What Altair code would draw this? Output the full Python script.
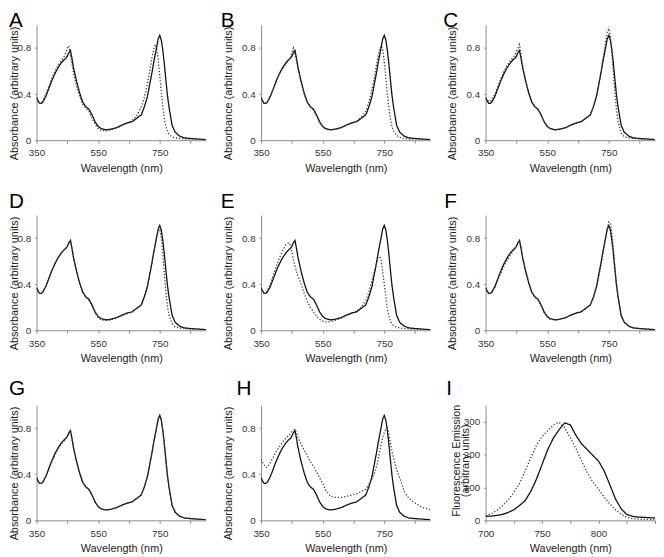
import altair as alt
import pandas as pd

FONT = "Liberation Sans"

# shared wavelength grid (nm) for absorbance spectra
WL = [350, 355, 360, 365, 370, 380, 390, 400, 410, 420, 430, 440, 445, 450, 455, 460,
      465, 470, 480, 490, 500, 510, 520, 530, 540, 550, 560, 575, 590, 610, 630, 645,
      660, 675, 690, 700, 710, 720, 725, 730, 735, 740, 745, 750, 755, 760, 765, 770,
      775, 780, 790, 800, 815, 830, 850, 875, 900]

# solid reference spectrum (same in A-H)
REF = [.37, .34, .32, .32, .33, .38, .45, .52, .58, .63, .67, .70, .71, .73, .76, .78,
       .71, .63, .51, .41, .33, .29, .27, .22, .16, .12, .10, .09, .095, .11, .135, .15,
       .16, .19, .22, .29, .38, .52, .59, .67, .74, .81, .88, .91, .87, .78, .66, .52,
       .39, .29, .13, .07, .035, .02, .015, .01, .005]

DOT_A = [.37, .34, .32, .32, .34, .40, .47, .54, .60, .65, .69, .73, .76, .80, .82, .74,
         .66, .58, .47, .38, .31, .28, .25, .19, .14, .10, .085, .08, .09, .105, .13, .15,
         .17, .21, .29, .37, .49, .64, .72, .79, .83, .80, .70, .56, .42, .29, .19, .12,
         .08, .05, .03, .02, .015, .01, .01, .005, .005]

DOT_B = [.37, .34, .32, .32, .33, .38, .45, .52, .58, .62, .66, .70, .72, .76, .80, .75,
         .69, .62, .50, .40, .33, .29, .26, .21, .15, .115, .095, .09, .095, .11, .135, .15,
         .165, .20, .25, .33, .44, .58, .66, .73, .79, .82, .79, .68, .54, .40, .28, .18,
         .12, .08, .04, .025, .015, .01, .01, .005, .005]

DOT_C = [.37, .35, .34, .34, .35, .40, .47, .54, .60, .65, .69, .72, .74, .77, .80, .83,
         .74, .65, .52, .41, .33, .29, .27, .22, .16, .12, .10, .09, .095, .11, .135, .15,
         .16, .19, .22, .29, .38, .52, .60, .69, .77, .86, .94, .97, .90, .76, .58, .40,
         .26, .16, .06, .03, .02, .015, .01, .01, .005]

DOT_D = [.37, .34, .32, .32, .33, .38, .45, .52, .58, .63, .67, .70, .71, .73, .76, .78,
         .71, .63, .51, .41, .33, .285, .26, .21, .15, .11, .09, .085, .09, .105, .13, .145,
         .16, .19, .22, .29, .38, .52, .59, .67, .74, .81, .87, .88, .80, .66, .49, .33,
         .21, .13, .06, .03, .02, .015, .01, .01, .005]

DOT_E = [.37, .34, .32, .32, .34, .40, .48, .56, .63, .69, .74, .76, .74, .68, .61, .56,
         .51, .47, .40, .32, .25, .20, .16, .12, .095, .08, .072, .075, .085, .105, .13, .15,
         .165, .20, .26, .33, .43, .53, .58, .63, .64, .60, .51, .40, .29, .19, .12, .08,
         .055, .04, .025, .02, .015, .01, .01, .005, .005]

DOT_F = [.37, .34, .32, .32, .33, .37, .44, .50, .56, .61, .65, .69, .71, .73, .76, .78,
         .72, .64, .52, .42, .33, .29, .26, .21, .15, .115, .095, .09, .095, .11, .135, .15,
         .16, .19, .22, .28, .37, .50, .57, .65, .72, .80, .88, .94, .93, .84, .70, .54,
         .40, .29, .13, .07, .035, .02, .015, .01, .005]

DOT_G = [.37, .34, .32, .32, .33, .38, .45, .51, .57, .62, .66, .69, .71, .73, .76, .78,
         .71, .63, .51, .41, .33, .29, .265, .22, .16, .12, .10, .09, .095, .11, .135, .15,
         .16, .19, .22, .29, .38, .52, .59, .67, .74, .81, .88, .91, .87, .78, .66, .52,
         .39, .29, .13, .07, .035, .02, .015, .01, .005]

DOT_H = [.53, .50, .48, .46, .46, .50, .55, .60, .64, .68, .71, .74, .75, .77, .78, .79,
         .76, .72, .66, .61, .56, .51, .47, .42, .37, .32, .26, .21, .20, .20, .21, .22,
         .23, .25, .27, .31, .36, .42, .47, .53, .60, .66, .72, .76, .79, .80, .75, .67,
         .60, .54, .44, .37, .25, .19, .15, .11, .095]

# fluorescence emission (panel I)
EM_WL = [700, 705, 710, 715, 720, 725, 730, 735, 740, 745, 750, 755, 760, 765, 770, 775,
         780, 785, 790, 795, 800, 805, 810, 815, 820, 825, 830, 835, 840, 850]
EM_SOLID = [12, 13, 15, 18, 24, 32, 45, 60, 88, 125, 170, 215, 250, 275, 296, 290,
            258, 232, 215, 197, 180, 150, 108, 65, 35, 18, 12, 10, 9, 7]
EM_DOT = [14, 20, 30, 45, 62, 85, 112, 150, 190, 228, 255, 272, 290, 298, 282, 250,
          218, 180, 145, 116, 95, 70, 50, 32, 18, 9, 5, 4, 3, 2]

# panel-letter placement, relative to each plot's top-left corner
LETTER_DX = {"A": -28, "B": -41, "C": -43, "D": -28, "E": -41, "F": -42,
             "G": -28, "H": -25, "I": -40}
ROW_DY = [2.5, -7, -10]

W, H = 172, 117

dash_scale = alt.Scale(domain=["solid", "dotted"], range=[[1, 0], [1.3, 1.9]])
color_scale = alt.Scale(domain=["solid", "dotted"], range=["#111111", "#3a3a3a"])


def letter_layer(letter, row):
    return alt.Chart(alt.Data(values=[{"t": letter}])).mark_text(
        align="left", baseline="alphabetic", fontSize=21, font=FONT, color="#000"
    ).encode(text="t:N", x=alt.value(LETTER_DX[letter]), y=alt.value(ROW_DY[row]))


def common_axis(**kw):
    base = dict(grid=False, domainColor="#8a8a8a", tickColor="#8a8a8a", tickSize=3,
                labelFont=FONT, labelFontSize=10, labelColor="#333",
                titleFont=FONT, titleFontSize=11, titleFontWeight="normal",
                titleColor="#222", labelFlush=False, labelOverlap=False)
    base.update(kw)
    return alt.Axis(**base)


def line_encoding():
    return dict(
        strokeDash=alt.StrokeDash("s:N", scale=dash_scale, legend=None),
        color=alt.Color("s:N", scale=color_scale, legend=None),
    )


def abs_panel(letter, dotted, col, row):
    n = len(WL)
    df = pd.DataFrame({"wl": WL + WL, "v": REF + dotted,
                       "s": ["solid"] * n + ["dotted"] * n})
    ytx = -22.5 if col == 0 else -33.5
    lines = alt.Chart(df).mark_line(strokeWidth=1.3, clip=True).encode(
        x=alt.X("wl:Q", scale=alt.Scale(domain=[350, 900], nice=False, zero=False),
                axis=common_axis(values=[350, 450, 550, 650, 750, 850],
                                 labelExpr="(datum.value - 350) % 200 == 0 ? datum.label : ''",
                                 title="Wavelength (nm)", labelPadding=5, titlePadding=5)),
        y=alt.Y("v:Q", scale=alt.Scale(domain=[0, 1], nice=False),
                axis=common_axis(values=[0, 0.4, 0.8],
                                 labelExpr="datum.value == 0 ? '0' : format(datum.value, '.1f')",
                                 title="Absorbance (arbitrary units)", labelPadding=4,
                                 tickSize=2, titleX=ytx, titleY=69,
                                 titleBaseline="middle", titleAlign="center")),
        **line_encoding(),
    )
    return alt.layer(lines, letter_layer(letter, row)).properties(width=W, height=H)


def em_panel():
    n = len(EM_WL)
    df = pd.DataFrame({"wl": EM_WL + EM_WL, "v": EM_SOLID + EM_DOT,
                       "s": ["solid"] * n + ["dotted"] * n})
    lines = alt.Chart(df).mark_line(strokeWidth=1.3, clip=True).encode(
        x=alt.X("wl:Q", scale=alt.Scale(domain=[700, 850], nice=False, zero=False),
                axis=common_axis(values=[700, 725, 750, 775, 800, 825, 850],
                                 labelExpr="datum.value <= 800 && datum.value % 50 == 0 ? datum.label : ''",
                                 title="Wavelength (nm)", labelPadding=5, titlePadding=5)),
        y=alt.Y("v:Q", scale=alt.Scale(domain=[0, 350], nice=False),
                axis=common_axis(values=[0, 100, 200, 300],
                                 title=["Fluorescence Emission", "(arbitrary units)"],
                                 labelPadding=4, tickSize=2, titleX=-30, titleY=56,
                                 titleBaseline="middle", titleAlign="center",
                                 titleLineHeight=10)),
        **line_encoding(),
    )
    return alt.layer(lines, letter_layer("I", 2)).properties(width=W, height=H)


panels = [
    abs_panel("A", DOT_A, 0, 0), abs_panel("B", DOT_B, 1, 0), abs_panel("C", DOT_C, 2, 0),
    abs_panel("D", DOT_D, 0, 1), abs_panel("E", DOT_E, 1, 1), abs_panel("F", DOT_F, 2, 1),
    abs_panel("G", DOT_G, 0, 2), abs_panel("H", DOT_H, 1, 2), em_panel(),
]

chart = alt.concat(*panels, columns=3, spacing={"row": 76, "column": 56},
                   bounds="flush").properties(
    padding={"top": -2, "left": 0, "right": 0, "bottom": 0}
).configure_view(stroke=None)

chart.save("out.html", embed_options={"renderer": "svg", "actions": False})
